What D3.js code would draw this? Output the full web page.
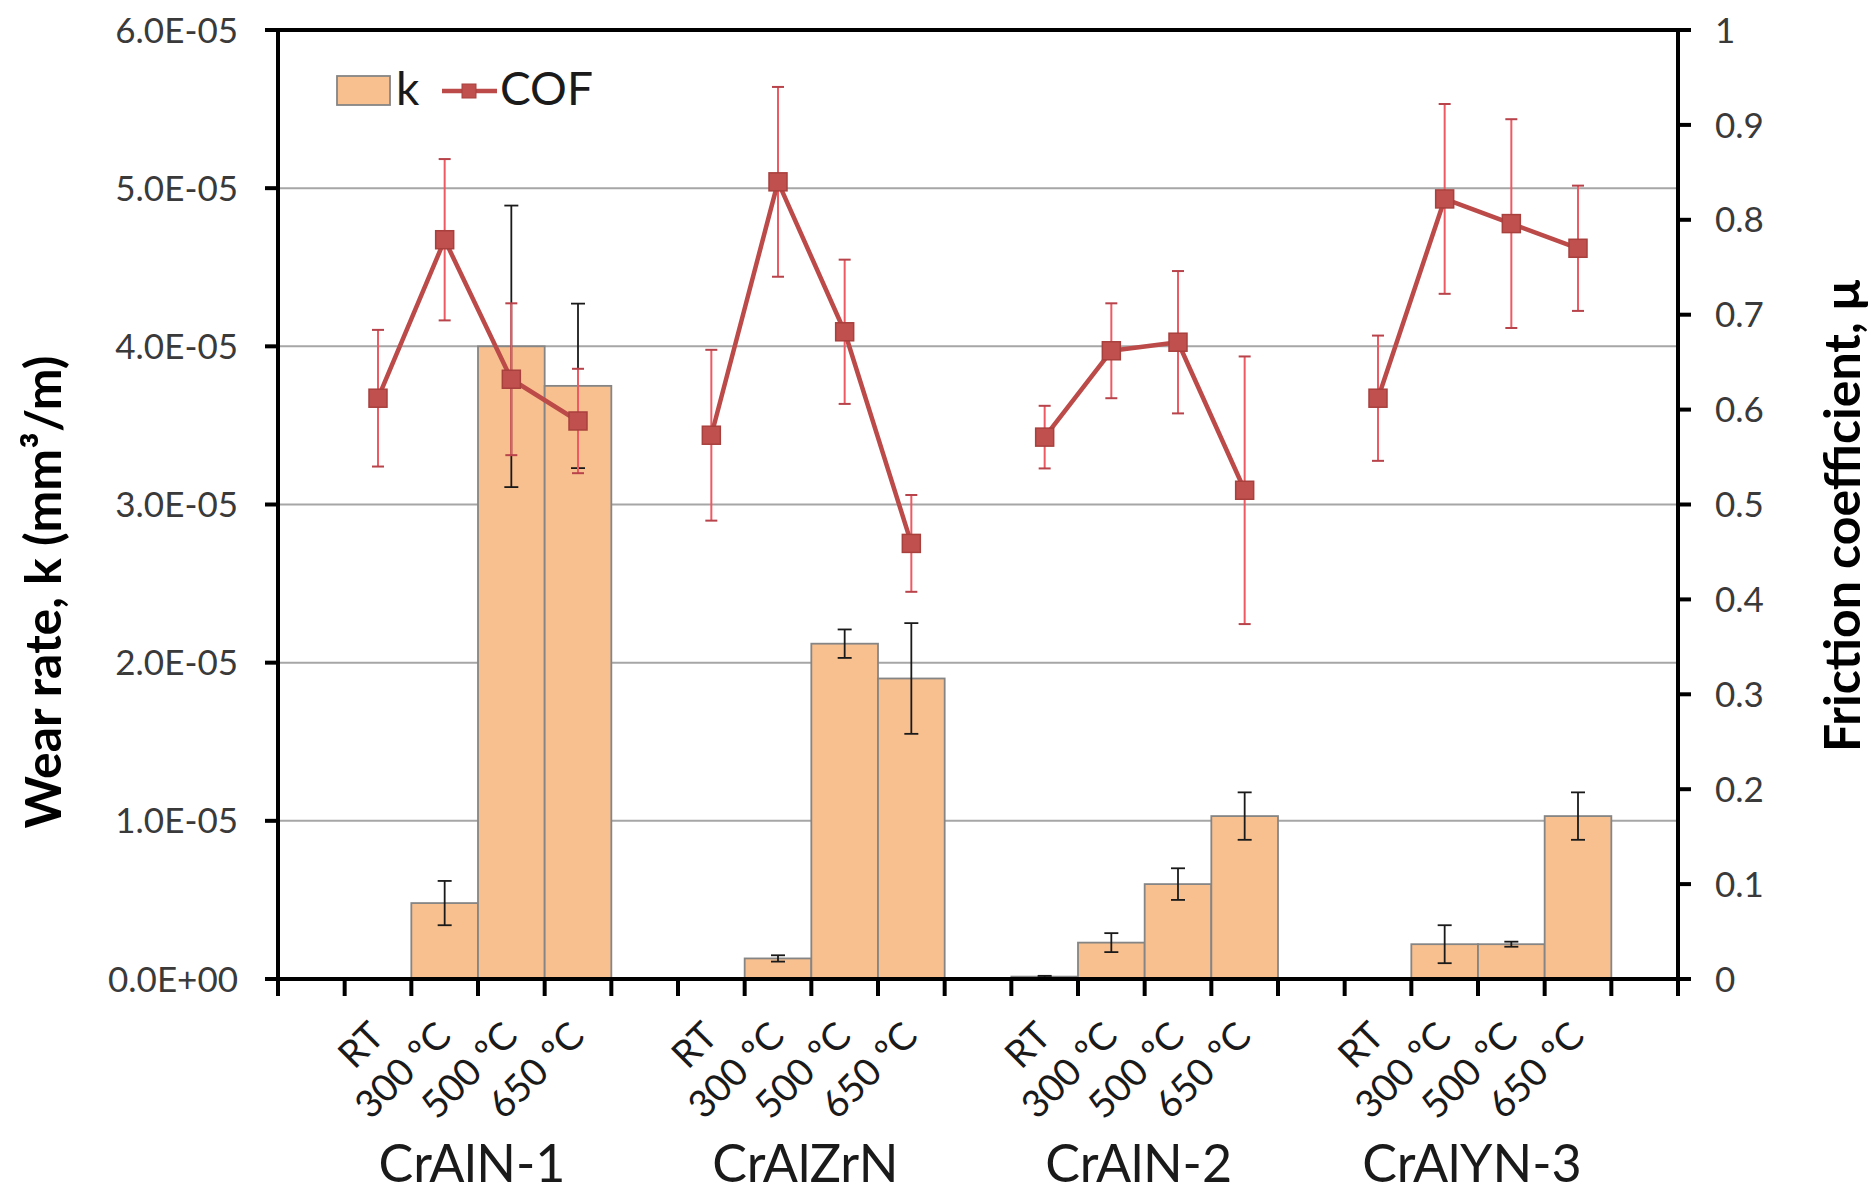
<!DOCTYPE html>
<html>
<head>
<meta charset="utf-8">
<script src="https://cdn.jsdelivr.net/npm/d3@7"></script>
<style>
  html, body { margin: 0; padding: 0; background: #fff; }
  svg { display: block; font-family: Lato, "Open Sans", sans-serif; }
</style>
</head>
<body>
<svg id="chart" width="1872" height="1194"></svg>
<script>
// ---------- DATA ----------
const groupNames = ["CrAlN-1", "CrAlZrN", "CrAlN-2", "CrAlYN-3"];
const tempLabels = ["RT", "300 ºC", "500 ºC", "650 ºC"];

// wear rate k (mm3/m), 4 temperatures per group, groups in order above
const wearRate = [0, 4.8e-6, 4.0e-5, 3.75e-5,
                  0, 1.3e-6, 2.12e-5, 1.9e-5,
                  1.5e-7, 2.3e-6, 6.0e-6, 1.03e-5,
                  0, 2.2e-6, 2.2e-6, 1.03e-5];
const wearErr  = [0, 1.4e-6, 8.9e-6, 5.2e-6,
                  0, 2.0e-7, 9.0e-7, 3.5e-6,
                  5e-8, 6.0e-7, 1.0e-6, 1.5e-6,
                  0, 1.2e-6, 1.6e-7, 1.5e-6];
// friction coefficient
const cof      = [0.612, 0.779, 0.632, 0.588,
                  0.573, 0.840, 0.682, 0.459,
                  0.571, 0.662, 0.671, 0.515,
                  0.612, 0.822, 0.796, 0.770];
const cofErr   = [0.072, 0.085, 0.080, 0.055,
                  0.090, 0.100, 0.076, 0.051,
                  0.033, 0.050, 0.075, 0.141,
                  0.066, 0.100, 0.110, 0.066];

const kTicks = [0, 1e-5, 2e-5, 3e-5, 4e-5, 5e-5, 6e-5];
const kTickLabels = ["0.0E+00", "1.0E-05", "2.0E-05", "3.0E-05", "4.0E-05", "5.0E-05", "6.0E-05"];
const cofTicks = [0, 0.1, 0.2, 0.3, 0.4, 0.5, 0.6, 0.7, 0.8, 0.9, 1];
const cofTickLabels = ["0", "0.1", "0.2", "0.3", "0.4", "0.5", "0.6", "0.7", "0.8", "0.9", "1"];

// ---------- LAYOUT ----------
const L = 278, R = 1678, T = 30, B = 979;
const nSlots = groupNames.length * (tempLabels.length + 1) + 1; // blank slots between groups
const slotOf = (g, t) => 1 + g * (tempLabels.length + 1) + t;

const svg = d3.select("#chart");
const x = d3.scaleBand().domain(d3.range(nSlots)).range([L, R]).padding(0);
const yK = d3.scaleLinear().domain([0, 6e-5]).range([B, T]);
const yC = d3.scaleLinear().domain([0, 1]).range([B, T]);
const bw = x.bandwidth();

const points = [];
groupNames.forEach((g, gi) => tempLabels.forEach((t, ti) => {
  const i = gi * tempLabels.length + ti;
  points.push({g: gi, t: ti, slot: slotOf(gi, ti), label: t,
               k: wearRate[i], kErr: wearErr[i], c: cof[i], cErr: cofErr[i]});
}));

// gridlines
svg.append("g").selectAll("line").data(kTicks.filter(v => v > 0 && v < 6e-5)).join("line")
  .attr("x1", L).attr("x2", R).attr("y1", d => yK(d)).attr("y2", d => yK(d))
  .attr("stroke", "#a6a6a6").attr("stroke-width", 2);

// bars
svg.append("g").selectAll("rect").data(points.filter(d => d.k > 0)).join("rect")
  .attr("x", d => x(d.slot)).attr("width", bw)
  .attr("y", d => yK(d.k)).attr("height", d => B - yK(d.k))
  .attr("fill", "#f9c08f").attr("stroke", "#858585").attr("stroke-width", 1.8);

// k error bars
const kErrG = svg.append("g").attr("stroke", "#1a1a1a").attr("stroke-width", 1.8);
points.filter(d => d.kErr > 0).forEach(d => {
  const cx = x(d.slot) + bw / 2;
  const y1 = yK(d.k + d.kErr), y0 = yK(d.k - d.kErr);
  kErrG.append("line").attr("x1", cx).attr("x2", cx).attr("y1", y1).attr("y2", y0);
  kErrG.append("line").attr("x1", cx - 7).attr("x2", cx + 7).attr("y1", y1).attr("y2", y1);
  kErrG.append("line").attr("x1", cx - 7).attr("x2", cx + 7).attr("y1", y0).attr("y2", y0);
});

// COF error bars
const cErrG = svg.append("g").attr("stroke", "#ee5a63").attr("stroke-width", 2);
points.forEach(d => {
  const cx = x(d.slot) + bw / 2;
  const y1 = yC(d.c + d.cErr), y0 = yC(d.c - d.cErr);
  cErrG.append("line").attr("x1", cx).attr("x2", cx).attr("y1", y1).attr("y2", y0);
  cErrG.append("line").attr("x1", cx - 6).attr("x2", cx + 6).attr("y1", y1).attr("y2", y1).attr("stroke", "#b8434a");
  cErrG.append("line").attr("x1", cx - 6).attr("x2", cx + 6).attr("y1", y0).attr("y2", y0).attr("stroke", "#b8434a");
});

// COF lines per group
const line = d3.line().x(d => x(d.slot) + bw / 2).y(d => yC(d.c));
groupNames.forEach((g, gi) => {
  svg.append("path").datum(points.filter(d => d.g === gi))
    .attr("d", line).attr("fill", "none").attr("stroke", "#bb4a48").attr("stroke-width", 4.5)
    .attr("stroke-linejoin", "round");
});
svg.append("g").selectAll("rect").data(points).join("rect")
  .attr("x", d => x(d.slot) + bw / 2 - 9).attr("y", d => yC(d.c) - 9)
  .attr("width", 18).attr("height", 18)
  .attr("fill", "#c0504d").attr("stroke", "#a8403e").attr("stroke-width", 1.5);

// axes frame
const axisG = svg.append("g").attr("stroke", "#000").attr("stroke-width", 4);
axisG.append("line").attr("x1", L).attr("x2", R).attr("y1", T).attr("y2", T);
axisG.append("line").attr("x1", L).attr("x2", L).attr("y1", T - 2).attr("y2", B + 2);
axisG.append("line").attr("x1", R).attr("x2", R).attr("y1", T - 2).attr("y2", B + 2);
axisG.append("line").attr("x1", L - 2).attr("x2", R + 2).attr("y1", B).attr("y2", B);

// left axis ticks + labels
svg.append("g").selectAll("line").data(kTicks).join("line")
  .attr("x1", L - 13).attr("x2", L).attr("y1", d => yK(d)).attr("y2", d => yK(d))
  .attr("stroke", "#000").attr("stroke-width", 4);
svg.append("g").selectAll("text").data(kTicks).join("text")
  .attr("x", L - 40).attr("y", d => yK(d)).attr("dy", "0.36em")
  .attr("text-anchor", "end").attr("font-size", 35).attr("fill", "#3a3a3a")
  .text((d, i) => kTickLabels[i]);

// right axis ticks + labels
svg.append("g").selectAll("line").data(cofTicks).join("line")
  .attr("x1", R).attr("x2", R + 13).attr("y1", d => yC(d)).attr("y2", d => yC(d))
  .attr("stroke", "#000").attr("stroke-width", 4);
svg.append("g").selectAll("text").data(cofTicks).join("text")
  .attr("x", R + 37).attr("y", d => yC(d)).attr("dy", "0.36em")
  .attr("text-anchor", "start").attr("font-size", 35).attr("fill", "#3a3a3a")
  .text((d, i) => cofTickLabels[i]);

// bottom ticks at slot boundaries
const bounds = d3.range(nSlots).map(i => x(i)).concat([R]);
svg.append("g").selectAll("line").data(bounds).join("line")
  .attr("x1", d => d).attr("x2", d => d).attr("y1", B).attr("y2", B + 17)
  .attr("stroke", "#000").attr("stroke-width", 4);

// category labels (rotated)
svg.append("g").selectAll("text").data(points).join("text")
  .attr("transform", d => `translate(${x(d.slot) + bw / 2 - 1},${B + 50}) rotate(-45)`)
  .attr("text-anchor", "end").attr("dy", "0.35em")
  .attr("font-size", 38).attr("fill", "#1a1a1a")
  .text(d => d.label);

// group labels
svg.append("g").selectAll("text").data(groupNames).join("text")
  .attr("x", (d, gi) => (x(slotOf(gi, 0)) + x(slotOf(gi, tempLabels.length - 1)) + bw) / 2 - 6)
  .attr("y", 1182)
  .attr("text-anchor", "middle").attr("font-size", 52).attr("fill", "#1a1a1a")
  .text(d => d);

// axis titles
svg.append("text").attr("transform", "translate(61,592) rotate(-90)")
  .attr("text-anchor", "middle").attr("font-size", 50).attr("font-weight", "bold").attr("fill", "#000")
  .text("Wear rate, k (mm³/m)");
svg.append("text").attr("transform", "translate(1860,516) rotate(-90)")
  .attr("text-anchor", "middle").attr("font-size", 50).attr("font-weight", "bold").attr("fill", "#000")
  .text("Friction coefficient, μ");

// legend
const lg = svg.append("g");
lg.append("rect").attr("x", 337).attr("y", 76).attr("width", 53).attr("height", 29)
  .attr("fill", "#f9c08f").attr("stroke", "#858585").attr("stroke-width", 1.8);
lg.append("text").attr("x", 396).attr("y", 105).attr("font-size", 46).attr("fill", "#1a1a1a").text("k");
lg.append("line").attr("x1", 442).attr("x2", 497).attr("y1", 91).attr("y2", 91)
  .attr("stroke", "#bb4a48").attr("stroke-width", 4.5);
lg.append("rect").attr("x", 462).attr("y", 84).attr("width", 14).attr("height", 14)
  .attr("fill", "#c0504d").attr("stroke", "#a8403e");
lg.append("text").attr("x", 500).attr("y", 105).attr("font-size", 46).attr("fill", "#1a1a1a").text("COF");
</script>
</body>
</html>
